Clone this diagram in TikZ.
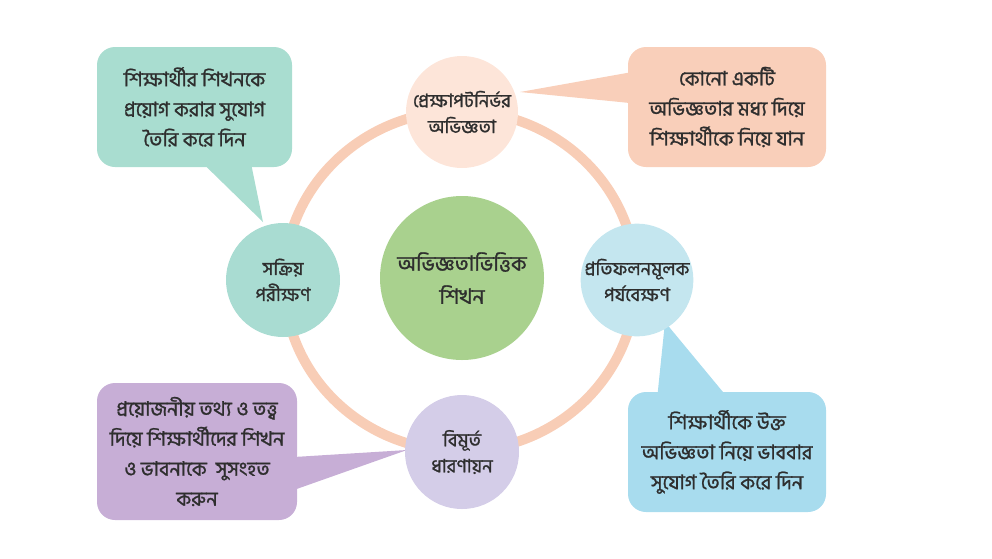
\documentclass[tikz,border=0pt]{standalone}
\usepackage{fontspec}
\newfontfamily\bn[Script=Bengali,FakeBold=1.2]{Hind Siliguri}
\usetikzlibrary{calc}
\definecolor{ringc}{HTML}{F8CDB6}
\definecolor{topc}{HTML}{FDE5D9}
\definecolor{trbox}{HTML}{F9CFBA}
\definecolor{rightc}{HTML}{C4E6EF}
\definecolor{brbox}{HTML}{A8DCEE}
\definecolor{botc}{HTML}{D4CDE8}
\definecolor{blbox}{HTML}{C7AED6}
\definecolor{leftc}{HTML}{A9DCD2}
\definecolor{tlbox}{HTML}{A9DDD0}
\definecolor{centc}{HTML}{A9D18E}
\definecolor{txt}{HTML}{2E2E2E}
\tikzset{
  stagec/.style={circle, minimum size=112pt, inner sep=0pt, align=center, text=txt,
    font=\bn\fontsize{18.5}{26}\selectfont},
  callout/.style={rounded corners=18pt, inner sep=0pt, align=center, text=txt,
    font=\bn\fontsize{20}{30}\selectfont},
}
\begin{document}
\begin{tikzpicture}[x=1pt,y=-1pt]
\useasboundingbox (0,0) rectangle (992,558);
\draw[ringc, line width=10pt] (460,281) ellipse [x radius=176pt, y radius=170pt];

% boxes
\node[callout, fill=tlbox, minimum width=195pt, minimum height=120pt] (tl) at (194.5,107)
  {শিক্ষার্থীর শিখনকে\\প্রয়োগ করার সুযোগ\\তৈরি করে দিন};
\node[callout, fill=trbox, minimum width=198pt, minimum height=120pt] (tr) at (727,107)
  {কোনো একটি\\অভিজ্ঞতার মধ্য দিয়ে\\শিক্ষার্থীকে নিয়ে যান};
\node[callout, fill=blbox, minimum width=200pt, minimum height=137pt] (bl) at (197,451.5)
  {প্রয়োজনীয় তথ্য ও তত্ত্ব\\দিয়ে শিক্ষার্থীদের শিখন\\ও ভাবনাকে\ \ সুসংহত\\করুন};
\node[callout, fill=brbox, minimum width=198pt, minimum height=120pt] (br) at (727,452)
  {শিক্ষার্থীকে উক্ত\\অভিজ্ঞতা নিয়ে ভাববার\\সুযোগ তৈরি করে দিন};

% circle centres
\coordinate (tcC) at (462,112);
\coordinate (rcC) at (637,280);
\coordinate (bcC) at (462,452);
\coordinate (lcC) at (283,280);

% tails
\fill[tlbox] ($(tl.south west)+(110,0)$) -- (263,222) -- ($(tl.south west)+(155,0)$) -- cycle;
\fill[trbox] ($(tr.north west)+(0,26)$) -- (520,92) -- ($(tr.north west)+(0,56)$) -- cycle;
\fill[blbox] ($(bl.north east)+(0,74)$) -- (407,450) -- ($(bl.north east)+(0,106)$) -- cycle;
\fill[brbox] ($(br.north west)+(30,0)$) -- (665,322) -- ($(br.north west)+(95,0)$) -- cycle;

% stage circles
\node[stagec, fill=topc] (tc) at (tcC) {প্রেক্ষাপটনির্ভর\\অভিজ্ঞতা};
\node[stagec, fill=rightc] (rc) at (rcC) {প্রতিফলনমূলক\\পর্যবেক্ষণ};
\node[stagec, fill=botc, minimum size=114pt] (bc) at (bcC) {বিমূর্ত\\ধারণায়ন};
\node[stagec, fill=leftc, minimum size=114pt] (lc) at (lcC) {সক্রিয়\\পরীক্ষণ};
\node[circle, fill=centc, minimum size=164pt, inner sep=0pt, align=center, text=txt,
  font=\bn\fontsize{21}{33}\selectfont] (cc) at (462,278) {অভিজ্ঞতাভিত্তিক\\শিখন};
\end{tikzpicture}
\end{document}
